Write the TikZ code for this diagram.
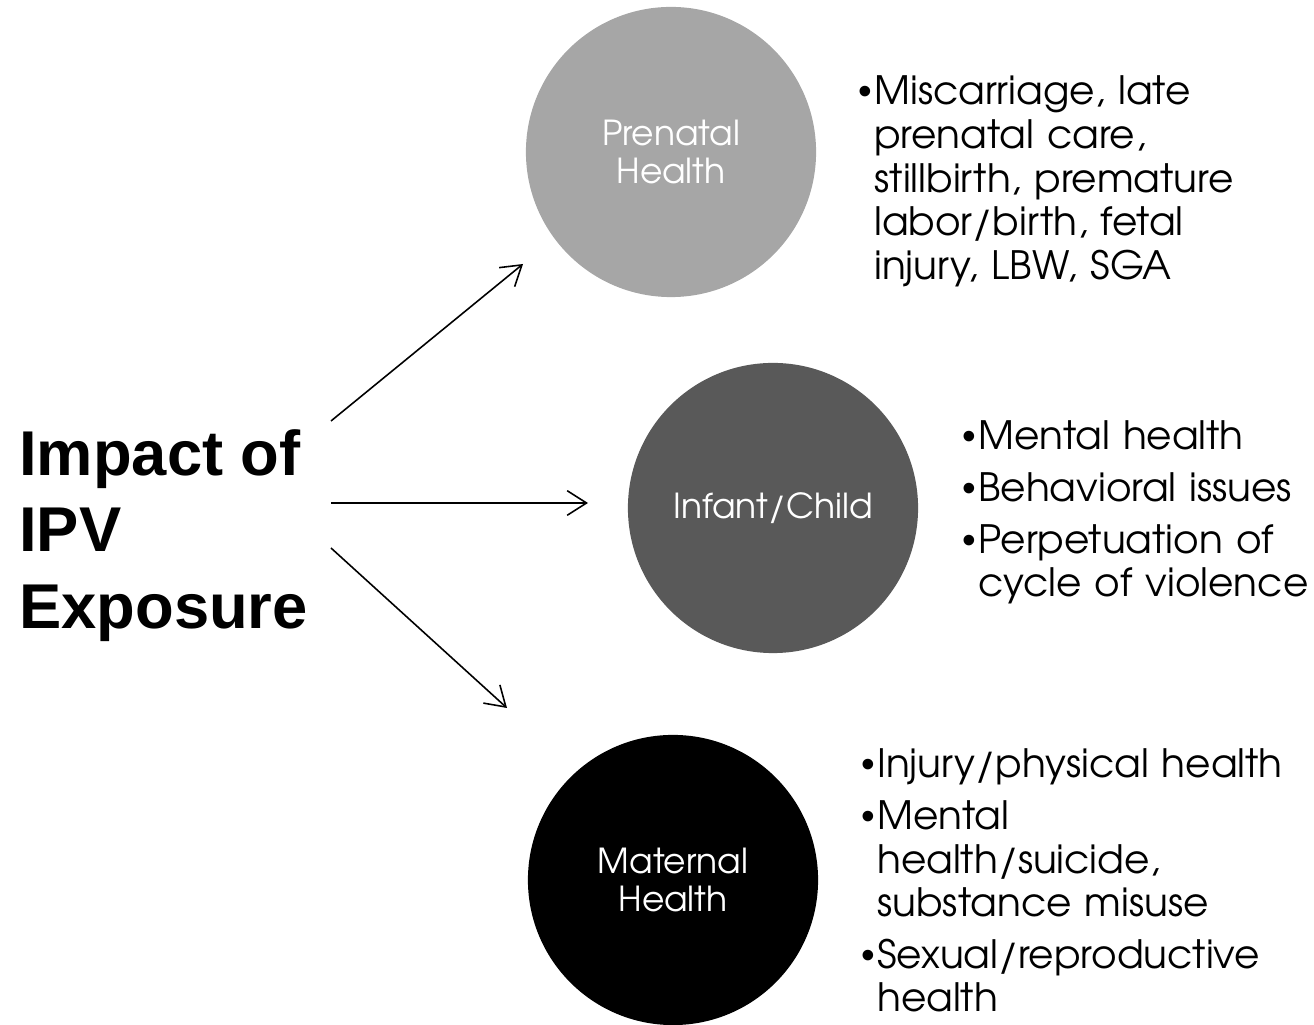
\documentclass[tikz,border=0pt]{standalone}
\usepackage{fontspec}
\setmainfont{TeX Gyre Adventor}
\newfontfamily\titlefont{Liberation Sans}
\usetikzlibrary{arrows.meta,positioning}
\tikzset{every picture/.style={line width=0.75pt}}
\definecolor{prenatalgray}{HTML}{A6A6A6}
\definecolor{infantgray}{HTML}{595959}
\newcommand{\bitem}[1]{\par\noindent\hangindent=0.16cm\hangafter=1\makebox[0.16cm][l]{\titlefont\textbullet}#1\par}

\begin{document}
\begin{tikzpicture}[x=0.01cm, y=-0.01cm,
    outcome/.style={circle, minimum size=2.9cm, inner sep=0pt, text=white, align=center,
        font=\fontsize{9.8pt}{10.8pt}\selectfont},
    effects/.style={anchor=north west, inner sep=0pt, text width=4.6cm, align=left,
        font=\fontsize{11.1pt}{12.4pt}\selectfont\setlength{\parskip}{0.08cm}},
    impact/.style={-{Straight Barb[length=5.5pt, width=7pt]}, line width=0.45pt}]
    \useasboundingbox (0,0) rectangle (1314,1025);
    % title
    \node[anchor=north west, inner sep=0pt, align=left,
        font=\titlefont\bfseries\fontsize{18pt}{21.8pt}\selectfont] (title) at (18,428)
        {Impact of\\IPV\\Exposure};
    % outcome circles
    \node[outcome, fill=prenatalgray] (prenatal) at (671,152) {Prenatal\\Health};
    \node[outcome, fill=infantgray] (infant) at (773,508) {Infant/Child};
    \node[outcome, fill=black] (maternal) at (673,880) {Maternal\\Health};
    % effect lists
    \node[effects] (prenatallist) at (857,52) {%
        \bitem{Miscarriage, late\newline prenatal care,\newline stillbirth, premature\newline
            labor/birth, fetal\newline injury, LBW, SGA}};
    \node[effects] (infantlist) at (961,397) {%
        \bitem{Mental health}
        \bitem{Behavioral issues}
        \bitem{Perpetuation of\newline cycle of violence}};
    \node[effects] (maternallist) at (860,725) {%
        \bitem{Injury/physical health}
        \bitem{Mental\newline health/suicide,\newline substance misuse}
        \bitem{Sexual/reproductive\newline health}};
    % arrows
    \coordinate (tail1) at (331,421);
    \coordinate (tail2) at (331,503);
    \coordinate (tail3) at (331,548);
    \coordinate (head1) at (523,264);
    \coordinate (head2) at (588,503);
    \coordinate (head3) at (507,708);
    \draw[impact] (tail1) -- (head1);
    \draw[impact] (tail2) -- (head2);
    \draw[impact] (tail3) -- (head3);
\end{tikzpicture}
\end{document}
